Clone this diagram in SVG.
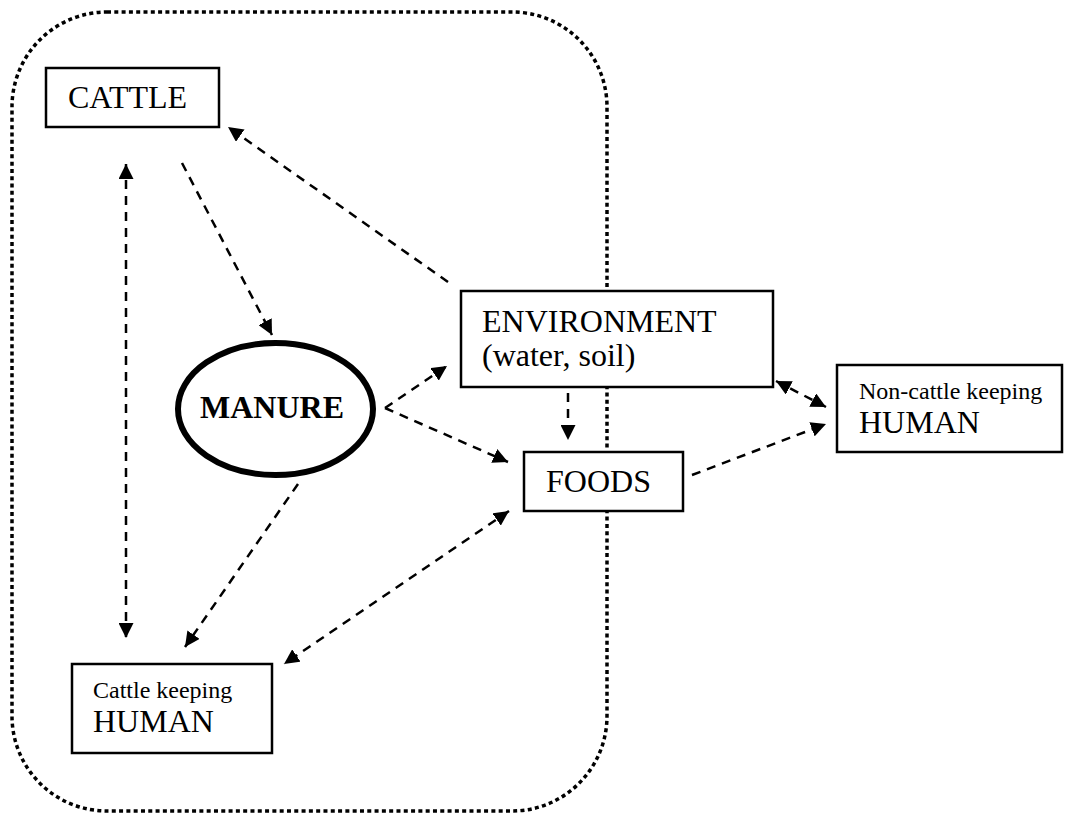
<svg xmlns="http://www.w3.org/2000/svg" width="1065" height="822" viewBox="0 0 1065 822">
<style>
.box{fill:#fff;stroke:#000;stroke-width:2.5}
.t{font-family:"Liberation Serif","Times New Roman",serif;fill:#000}
.big{font-size:32px}
.small{font-size:24px}
.conn{fill:none;stroke:#000;stroke-width:2.5;stroke-dasharray:9 7}
</style>
<defs>
<marker id="ah" viewBox="0 0 10 10" refX="10" refY="5" markerWidth="15" markerHeight="15" markerUnits="userSpaceOnUse" orient="auto-start-reverse">
<path d="M0,0 L10,5 L0,10 z" fill="#000"/>
</marker>
</defs>
<rect width="1065" height="822" fill="#fff"/>
<rect id="boundary" x="12" y="12" width="595" height="799" rx="95" ry="95" fill="none" stroke="#000" stroke-width="3.5" stroke-dasharray="4 3.3"/>
<g id="connectors">
<path class="conn" d="M126,164 L126,638" marker-start="url(#ah)" marker-end="url(#ah)"/>
<path class="conn" d="M182,163 L272,335" marker-end="url(#ah)"/>
<path class="conn" d="M448,282 L228,127" marker-end="url(#ah)"/>
<path class="conn" d="M385,408 L447,366" marker-end="url(#ah)"/>
<path class="conn" d="M385,408 L508,462" marker-end="url(#ah)"/>
<path class="conn" d="M568,393 L568,440" marker-end="url(#ah)"/>
<path class="conn" d="M509,511 L284,664" marker-start="url(#ah)" marker-end="url(#ah)"/>
<path class="conn" d="M298,484 L185,647" marker-end="url(#ah)"/>
<path class="conn" d="M776,381 L826,407" marker-start="url(#ah)" marker-end="url(#ah)"/>
<path class="conn" d="M692,475 L826,424" marker-end="url(#ah)"/>
</g>
<g id="cattle">
<rect class="box" x="46" y="68" width="173" height="59"/>
<text class="t big" x="68" y="108">CATTLE</text>
</g>
<g id="manure">
<ellipse cx="275.5" cy="409" rx="97.5" ry="66" fill="#fff" stroke="#000" stroke-width="6"/>
<text class="t big" x="200" y="418" font-weight="bold">MANURE</text>
</g>
<g id="environment">
<rect class="box" x="461" y="291" width="312" height="96"/>
<text class="t big" x="482" y="332">ENVIRONMENT</text>
<text class="t big" x="482" y="366">(water, soil)</text>
</g>
<g id="foods">
<rect class="box" x="524" y="452" width="159" height="59"/>
<text class="t big" x="546" y="492">FOODS</text>
</g>
<g id="cattle-human">
<rect class="box" x="72" y="664" width="200" height="89"/>
<text class="t small" x="93" y="698">Cattle keeping</text>
<text class="t big" x="93" y="732">HUMAN</text>
</g>
<g id="noncattle-human">
<rect class="box" x="837" y="365" width="225" height="87"/>
<text class="t small" x="859" y="399">Non-cattle keeping</text>
<text class="t big" x="859" y="433">HUMAN</text>
</g>
</svg>
